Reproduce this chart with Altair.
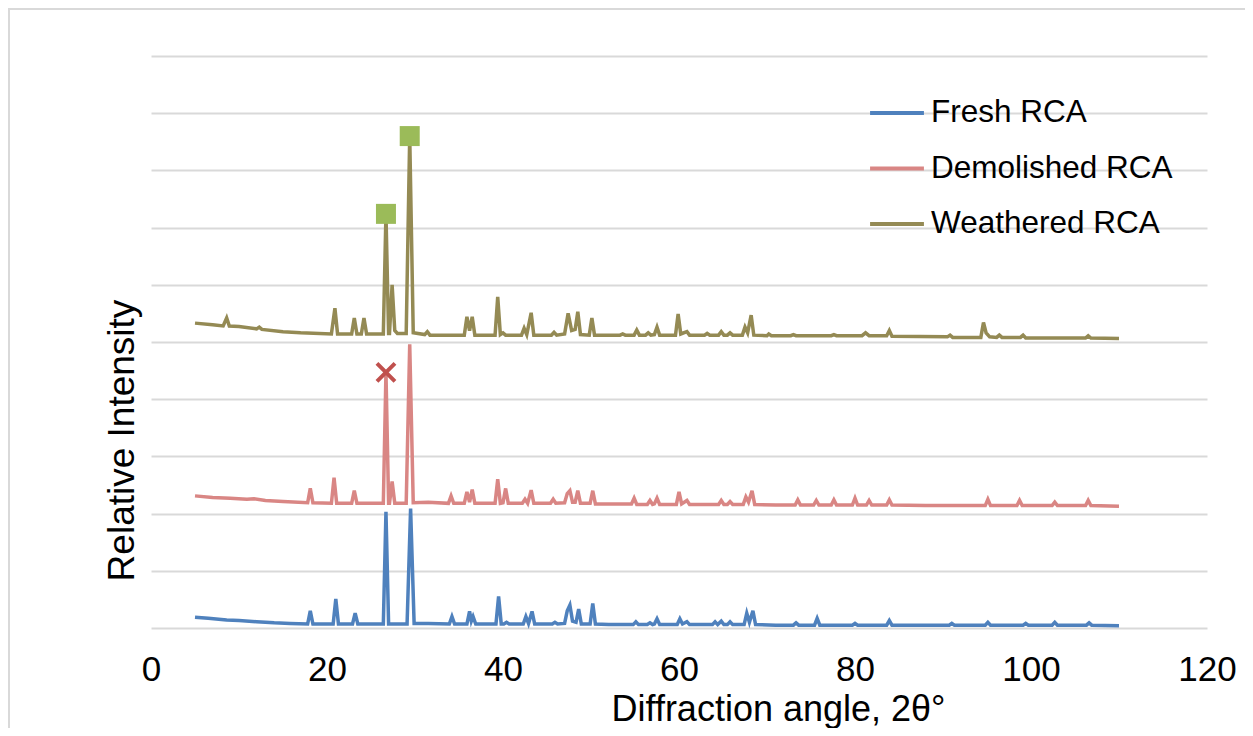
import altair as alt
import pandas as pd

# diffraction angle (2-theta) and relative intensity
fresh_angle = [5, 6.5, 8.6, 10, 12, 14, 15.8, 17.8, 18.1, 18.4, 20.7, 21.0, 21.3, 22.9, 23.2, 23.5,
               26.4, 26.7, 27.0, 29.1, 29.5, 29.9, 31.5, 33.9, 34.2, 34.5, 35.9, 36.2, 36.4, 36.6, 36.9,
               39.2, 39.5, 39.8, 40.1, 40.4, 40.7, 42.3, 42.6, 42.9, 43.3, 43.6, 45.6, 45.9, 46.2,
               47.0, 47.3, 47.6, 47.9, 48.3, 48.6, 48.9, 49.9, 50.2, 50.5, 52, 54.8, 55.1, 55.4,
               56.4, 56.7, 57.0, 57.2, 57.5, 57.8, 59.8, 60.1, 60.4, 60.9, 61.2, 63.8, 64.1, 64.4,
               64.8, 65.1, 65.5, 65.8, 66.1, 67.4, 67.7, 68.0, 68.4, 68.7, 71, 73.0, 73.3, 73.6,
               75.4, 75.7, 76.0, 79.7, 80.0, 80.3, 83.6, 83.9, 84.2, 87, 90.7, 91.0, 91.3,
               94.8, 95.1, 95.4, 99.1, 99.4, 99.7, 102.4, 102.7, 103.0, 106.3, 106.6, 106.9, 110]
fresh_int = [0.19, 0.17, 0.14, 0.13, 0.11, 0.09, 0.08, 0.07, 0.30, 0.07, 0.07, 0.51, 0.07, 0.07, 0.26, 0.07,
             0.07, 2.03, 0.07, 0.07, 2.09, 0.08, 0.08, 0.07, 0.20, 0.07, 0.07, 0.29, 0.12, 0.20, 0.07,
             0.07, 0.55, 0.07, 0.07, 0.10, 0.07, 0.07, 0.20, 0.08, 0.29, 0.07, 0.07, 0.10, 0.07,
             0.08, 0.30, 0.40, 0.12, 0.10, 0.33, 0.07, 0.07, 0.43, 0.07, 0.06, 0.06, 0.11, 0.06,
             0.06, 0.09, 0.06, 0.07, 0.16, 0.06, 0.06, 0.16, 0.07, 0.11, 0.06, 0.06, 0.11, 0.06,
             0.12, 0.06, 0.06, 0.11, 0.06, 0.06, 0.26, 0.10, 0.30, 0.06, 0.05, 0.05, 0.09, 0.05,
             0.05, 0.17, 0.05, 0.05, 0.08, 0.05, 0.05, 0.13, 0.05, 0.05, 0.05, 0.08, 0.05,
             0.05, 0.10, 0.05, 0.05, 0.08, 0.05, 0.05, 0.10, 0.05, 0.05, 0.09, 0.05, 0.04]

demol_angle = [5, 7, 9, 10.9, 11.7, 13, 15, 17.8, 18.1, 18.4, 20.5, 20.8, 21.1, 22.8, 23.1, 23.4,
               26.4, 26.7, 27.0, 27.1, 27.4, 27.7, 29.0, 29.4, 29.8, 31.5, 33.8, 34.1, 34.4,
               35.6, 35.9, 36.2, 36.5, 36.8, 39.1, 39.4, 39.7, 40.0, 40.3, 40.6,
               42.2, 42.5, 42.8, 43.2, 43.5, 45.4, 45.7, 46.0, 47.0, 47.3, 47.6, 47.9, 48.2, 48.5, 48.8,
               49.9, 50.2, 50.5, 52, 54.6, 54.9, 55.2, 56.4, 56.7, 57.0, 57.2, 57.5, 57.8,
               59.7, 60.0, 60.3, 60.9, 61.2, 64.5, 64.8, 65.1, 65.5, 65.8, 66.1,
               67.3, 67.6, 67.9, 68.3, 68.6, 71, 73.2, 73.5, 73.8, 75.3, 75.6, 75.9,
               77.3, 77.6, 77.9, 79.7, 80.0, 80.3, 81.3, 81.6, 81.9, 83.6, 83.9, 84.2,
               88, 94.8, 95.1, 95.4, 98.4, 98.7, 99.0, 102.4, 102.7, 103.0, 106.2, 106.5, 106.8, 110]
demol_int = [2.31, 2.28, 2.27, 2.25, 2.26, 2.23, 2.21, 2.19, 2.44, 2.19, 2.18, 2.63, 2.18, 2.18, 2.40, 2.18,
             2.18, 4.47, 2.18, 2.18, 2.56, 2.18, 2.18, 4.96, 2.19, 2.20, 2.18, 2.31, 2.18,
             2.18, 2.38, 2.20, 2.42, 2.18, 2.18, 2.60, 2.18, 2.19, 2.44, 2.18,
             2.18, 2.25, 2.18, 2.41, 2.18, 2.18, 2.25, 2.18, 2.19, 2.35, 2.40, 2.20, 2.20, 2.40, 2.18,
             2.18, 2.40, 2.17, 2.17, 2.17, 2.27, 2.16, 2.16, 2.23, 2.16, 2.17, 2.27, 2.16,
             2.16, 2.38, 2.17, 2.23, 2.16, 2.16, 2.23, 2.16, 2.16, 2.21, 2.16,
             2.16, 2.29, 2.20, 2.40, 2.16, 2.15, 2.15, 2.24, 2.15, 2.15, 2.23, 2.15,
             2.15, 2.24, 2.15, 2.15, 2.27, 2.15, 2.15, 2.23, 2.15, 2.15, 2.24, 2.15,
             2.14, 2.14, 2.25, 2.14, 2.14, 2.23, 2.14, 2.14, 2.20, 2.14, 2.14, 2.23, 2.14, 2.13]

weath_angle = [5, 7, 8.2, 8.6, 8.9, 10, 12.0, 12.3, 12.6, 15, 17, 20.5, 20.9, 21.2,
               22.8, 23.1, 23.4, 23.9, 24.2, 24.5, 26.4, 26.7, 27.0, 27.1, 27.4, 27.7, 28.0,
               29.0, 29.4, 29.8, 31.1, 31.4, 31.7, 35.6, 35.9, 36.2, 36.5, 36.8,
               39.1, 39.4, 39.7, 40.0, 40.3, 42.1, 42.4, 42.7, 43.2, 43.5, 45.5, 45.8, 46.1,
               47.0, 47.4, 47.8, 48.2, 48.5, 48.8, 49.8, 50.1, 50.4, 53.3, 53.6, 53.9,
               54.9, 55.2, 55.5, 56.2, 56.5, 56.8, 57.2, 57.5, 57.8, 59.6, 59.9, 60.2, 60.9, 61.2,
               62.9, 63.2, 63.5, 64.5, 64.8, 65.1, 65.5, 65.8, 66.1, 67.2, 67.5, 67.8, 68.2, 68.5,
               70.0, 70.2, 70.5, 72.7, 73.0, 73.3, 77.3, 77.6, 77.9, 80.8, 81.2, 81.6,
               83.6, 83.9, 84.2, 90.5, 90.8, 91.1, 94.3, 94.6, 94.9, 95.3, 96.1, 96.4, 96.7,
               98.8, 99.1, 99.4, 106.2, 106.5, 106.8, 110]
weath_int = [5.33, 5.30, 5.28, 5.42, 5.28, 5.27, 5.23, 5.26, 5.22, 5.18, 5.16, 5.14, 5.59, 5.14,
             5.14, 5.42, 5.14, 5.14, 5.42, 5.14, 5.14, 7.24, 5.15, 5.15, 6.00, 5.20, 5.15,
             5.15, 8.60, 5.16, 5.13, 5.18, 5.12, 5.12, 5.44, 5.20, 5.44, 5.12,
             5.12, 5.79, 5.13, 5.16, 5.12, 5.12, 5.24, 5.13, 5.51, 5.12, 5.12, 5.17, 5.12,
             5.14, 5.50, 5.20, 5.22, 5.53, 5.13, 5.12, 5.42, 5.12, 5.12, 5.14, 5.12,
             5.12, 5.21, 5.12, 5.12, 5.16, 5.12, 5.13, 5.26, 5.12, 5.12, 5.49, 5.14, 5.18, 5.12,
             5.12, 5.15, 5.12, 5.12, 5.18, 5.12, 5.12, 5.16, 5.12, 5.12, 5.26, 5.16, 5.47, 5.12,
             5.11, 5.14, 5.11, 5.11, 5.13, 5.11, 5.11, 5.13, 5.11, 5.11, 5.16, 5.11,
             5.11, 5.20, 5.10, 5.09, 5.12, 5.08, 5.08, 5.34, 5.16, 5.09, 5.08, 5.12, 5.08,
             5.08, 5.12, 5.07, 5.07, 5.11, 5.07, 5.06]

series_names = ['Fresh RCA', 'Demolished RCA', 'Weathered RCA']
series_colors = ['#4F81BD', '#D98684', '#948A54']

# phase markers: squares on the weathered pattern, cross on the demolished one
square_angle = [26.7, 29.4]
square_int = [7.24, 8.60]
cross_angle = [26.7]
cross_int = [4.47]

x_ticks = [0, 20, 40, 60, 80, 100, 120]
y_grid = [0, 1, 2, 3, 4, 5, 6, 7, 8, 9, 10]

FONT = 'Liberation Sans'
W, H = 1056, 572

frames = []
for name, xs, ys in [(series_names[0], fresh_angle, fresh_int),
                     (series_names[1], demol_angle, demol_int),
                     (series_names[2], weath_angle, weath_int)]:
    frames.append(pd.DataFrame({'angle': xs, 'intensity': ys, 'sample': name}))
xrd = pd.concat(frames, ignore_index=True)

squares = pd.DataFrame({'angle': square_angle, 'intensity': square_int})
crosses = pd.DataFrame({'angle': cross_angle, 'intensity': cross_int})

x_enc = alt.X('angle:Q', scale=alt.Scale(domain=[0, 120], nice=False),
              axis=alt.Axis(values=x_ticks, grid=False, domain=False, ticks=False, tickSize=0,
                            labelFontSize=35, labelFont=FONT, labelColor='#000000',
                            labelPadding=52, labelBaseline='alphabetic', labelFlush=False,
                            title='Diffraction angle, 2θ°', titleFont=FONT, titleFontSize=36,
                            titleFontWeight='normal', titleColor='#000000',
                            titleX=627, titleY=92, titleAlign='center',
                            titleBaseline='alphabetic'))
y_enc = alt.Y('intensity:Q', scale=alt.Scale(domain=[0, 10], nice=False),
              axis=alt.Axis(values=y_grid, labels=False, ticks=False, domain=False,
                            grid=True, gridColor='#D9D9D9', gridWidth=1.8,
                            title='Relative Intensity', titleFont=FONT, titleFontSize=37,
                            titleFontWeight='normal', titleColor='#000000',
                            titleAngle=270, titleX=-18, titleY=384, titleAlign='center',
                            titleBaseline='alphabetic'))

# light outer border of the chart area
frame = alt.Chart(pd.DataFrame({'k': [0]})).mark_rect(
    filled=False, stroke='#D9D9D9', strokeWidth=2
).encode(x=alt.value(-142), x2=alt.value(W + 200), y=alt.value(-47), y2=alt.value(H + 300))

lines = alt.Chart(xrd).mark_line(strokeWidth=3.5).encode(
    x=x_enc,
    y=y_enc,
    color=alt.Color('sample:N',
                    scale=alt.Scale(domain=series_names, range=series_colors),
                    legend=alt.Legend(title=None, orient='none', legendX=717, legendY=28,
                                      symbolType='stroke', symbolSize=2900,
                                      symbolStrokeWidth=4, labelFont=FONT,
                                      labelFontSize=31.5, labelColor='#000000',
                                      labelOffset=5, rowPadding=10.5, padding=0,
                                      labelLimit=400)),
    detail='sample:N'
)

sq = alt.Chart(squares).mark_square(size=400, color='#9BBB59', opacity=1).encode(
    x='angle:Q', y='intensity:Q'
)

cx = alt.Chart(crosses).mark_point(
    shape='M-1,-1L1,1M-1,1L1,-1', size=324, strokeWidth=4, color='#C0504D',
    filled=False, opacity=1
).encode(x='angle:Q', y='intensity:Q')

chart = alt.layer(frame, lines, sq, cx).properties(
    width=W, height=H,
    padding={'left': 143, 'top': 48, 'right': 38, 'bottom': 100},
    autosize=alt.AutoSizeParams(type='none')
).configure_view(strokeWidth=0)

chart.save('out.html', embed_options={'renderer': 'svg', 'actions': False})
